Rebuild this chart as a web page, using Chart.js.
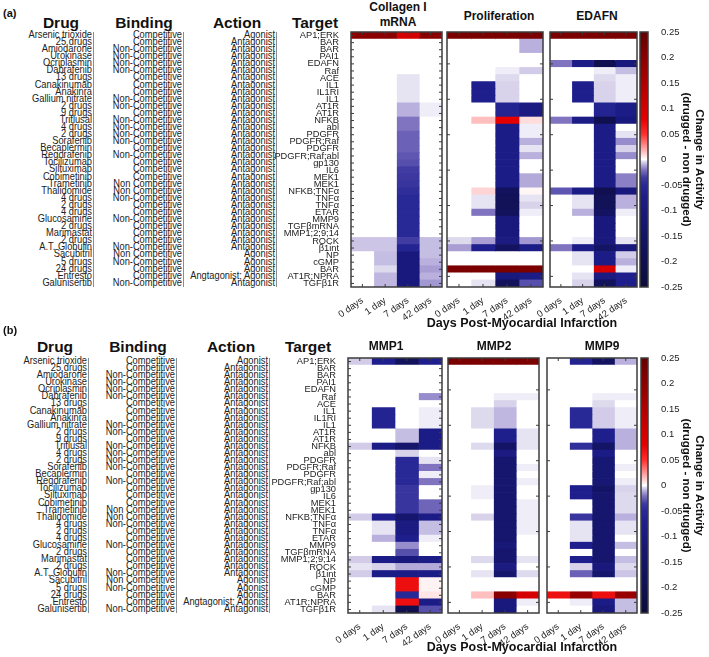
<!DOCTYPE html>
<html>
<head>
<meta charset="utf-8">
<script src="https://cdn.jsdelivr.net/npm/chart.js@4/dist/chart.umd.min.js"></script>
<style>
  body { margin: 0; background: #fff; width: 709px; height: 657px; overflow: hidden; position: relative;
         font-family: "Liberation Sans", Arial, sans-serif; color: #222; }
  canvas { position: absolute; }
  .t { position: absolute; white-space: nowrap; }
  .hd { font-weight: bold; font-size: 15.5px; line-height: 18px; color: #111; transform: translateX(-50%); }
  .pt { font-weight: bold; font-size: 12px; line-height: 15px; color: #111; text-align: center; transform: translateX(-50%); }
  .col { position: absolute; border-right: 1px solid #8c8c8c; text-align: right; font-size: 9.3px; padding-right: 1px; }
  .col div { height: 7.083px; line-height: 7.083px; white-space: nowrap; transform: scaleY(1.15); }
</style>
</head>
<body>
<script>
// ---- data ----
const dayLabels = ['0 days', '1 day', '7 days', '42 days']

const targets = ['AP1;ERK', 'BAR', 'BAR', 'PAI1', 'EDAFN', 'Raf', 'ACE', 'IL1', 'IL1RI', 'IL1',
  'AT1R', 'AT1R', 'NFKB', 'abl', 'PDGFR', 'PDGFR;Raf', 'PDGFR', 'PDGFR;Raf;abl', 'gp130', 'IL6',
  'MEK1', 'MEK1', 'NFKB;TNFα', 'TNFα', 'TNFα', 'ETAR', 'MMP9', 'TGFβmRNA', 'MMP1;2;9;14', 'ROCK',
  'β1int', 'NP', 'cGMP', 'BAR', 'AT1R;NPRA', 'TGFβ1R']

const drugs = ['Arsenic trioxide', '25 drugs', 'Amiodarone', 'Urokinase', 'Ocriplasmin', 'Dabrafenib',
  '13 drugs', 'Canakinumab', 'Anakinra', 'Gallium nitrate', '2 drugs', '9 drugs', 'Triflusal', '4 drugs',
  '2 drugs', 'Sorafenib', 'Becaplermin', 'Regorafenib', 'Tocilizumab', 'Siltuximab', 'Cobimetinib',
  'Trametinib', 'Thalidomide', '4 drugs', '2 drugs', '4 drugs', 'Glucosamine', '2 drugs', 'Marimastat',
  '2 drugs', 'A.T. Globulin', 'Sacubitril', '5 drugs', '24 drugs', 'Entresto', 'Galunisertib']

const C = 'Competitive', N = 'Non-Competitive', NS = 'Non Competitive'
const binding = [C, C, N, N, N, N, C, C, C, N, N, C, N, N, N, N, C, N, C, C,
  C, NS, NS, N, C, C, N, C, C, C, N, NS, N, C, C, N]

const ANT = 'Antagonist', AG = 'Agonist'
const actions = [AG, ANT, ANT, ANT, ANT, ANT, ANT, ANT, ANT, ANT, ANT, ANT, ANT, ANT, ANT, ANT, ANT, ANT,
  ANT, ANT, ANT, ANT, ANT, ANT, ANT, ANT, ANT, ANT, ANT, ANT, ANT, AG, AG, AG, 'Angtagonist; Agonist', ANT]

// one row per target, columns = 0, 1, 7, 42 days
const collagen = [
  [0.2, 0.2, 0.1, 0.2], [0, 0, 0, 0], [0, 0, 0, 0], [0, 0, 0, 0], [0, 0, 0, 0], [0, 0, 0, 0],
  [0, 0, -0.003, 0], [0, 0, -0.003, 0], [0, 0, -0.003, 0], [0, 0, -0.003, 0],
  [0, 0, -0.01, -0.002], [0, 0, -0.01, -0.002], [0, 0, -0.02, 0], [0, 0, -0.02, 0],
  [0, 0, -0.025, 0], [0, 0, -0.025, 0], [0, 0, -0.025, 0], [0, 0, -0.028, 0],
  [0, 0, -0.03, 0], [0, 0, -0.035, 0], [0, 0, -0.038, 0], [0, 0, -0.04, 0],
  [0, 0, -0.045, 0], [0, 0, -0.05, 0], [0, 0, -0.05, 0], [0, 0, -0.05, 0],
  [0, 0, -0.05, 0], [0, 0, -0.05, 0], [0, 0, -0.05, 0],
  [-0.007, -0.007, -0.035, -0.008], [-0.007, -0.007, -0.06, -0.008],
  [0, -0.008, -0.1, -0.008], [0, -0.008, -0.1, -0.01], [0, -0.004, -0.1, -0.013],
  [0, -0.009, -0.1, -0.01], [0, -0.009, -0.1, -0.014]
]

const proliferation = [
  [0.22, 0.22, 0.22, 0.22], [0, 0, 0, -0.01], [0, 0, 0, -0.01], [0, 0, 0, 0], [0, 0, 0, 0],
  [0, 0, -0.002, -0.006], [0, 0, -0.004, 0], [0, -0.07, -0.005, 0], [0, -0.07, -0.005, 0],
  [0, -0.07, -0.005, 0], [0, 0, -0.06, -0.09], [0, 0, -0.06, -0.09], [0, 0.015, 0.08, 0.008],
  [0, 0, -0.08, -0.002], [0, 0, -0.08, -0.002], [0, 0, -0.08, -0.01], [0, 0, -0.08, -0.003],
  [0, 0, -0.08, -0.01], [0, 0, -0.08, 0], [0, 0, -0.08, 0], [0, 0, -0.08, -0.011],
  [0, 0, -0.08, -0.011], [0, 0.01, -0.17, 0.002], [0, -0.003, -0.18, -0.003],
  [0, -0.003, -0.18, -0.005], [0, -0.02, -0.17, -0.002], [0, 0, -0.1, 0], [0, 0, -0.1, 0],
  [0, 0, -0.1, 0], [-0.004, -0.013, -0.09, -0.014], [-0.013, -0.07, -0.16, -0.08],
  [0, 0, 0, 0], [0, 0, 0, 0], [0.22, 0.22, 0.22, 0.22], [0, 0, -0.1, -0.08], [0, -0.003, -0.17, -0.03]
]

const edafn = [
  [0.22, 0.22, 0.22, 0.22], [0, 0, 0, 0], [0, 0, 0, 0], [0, 0, 0, 0], [-0.02, -0.08, -0.2, -0.1],
  [0, 0, -0.002, -0.008], [0, 0, -0.004, -0.002], [0, -0.07, -0.005, -0.002], [0, -0.07, -0.005, -0.002],
  [0, -0.07, -0.005, -0.002], [0, 0, -0.06, -0.08], [0, 0, -0.06, -0.08], [-0.02, -0.08, -0.2, -0.1],
  [0, 0, -0.08, 0], [0, 0, -0.08, -0.003], [0, 0, -0.08, -0.016], [0, 0, -0.08, -0.005],
  [0, 0, -0.08, -0.016], [0, 0, -0.08, 0], [0, 0, -0.08, 0], [0, 0, -0.08, -0.018],
  [0, 0, -0.08, -0.018], [-0.028, -0.08, -0.2, -0.1], [0, -0.003, -0.18, -0.01],
  [0, -0.003, -0.18, -0.01], [0, -0.01, -0.16, -0.002], [0, 0, -0.1, 0], [0, 0, -0.1, 0],
  [0, 0, -0.1, 0], [0, -0.002, -0.1, -0.003], [-0.02, -0.08, -0.15, -0.1], [0, -0.003, -0.08, -0.006],
  [0, -0.003, -0.08, -0.01], [0, 0, 0.1, -0.002], [0, -0.003, -0.09, -0.07], [0, -0.005, -0.17, -0.07]
]

const mmp1 = [
  [-0.006, -0.07, -0.17, -0.07], [0, 0, 0, 0], [0, 0, 0, 0], [0, 0, 0, 0], [0, 0, 0, 0],
  [0, 0, 0, -0.016], [0, 0, 0, 0], [0, -0.06, 0, -0.002], [0, -0.06, 0, -0.002], [0, -0.06, 0, -0.002],
  [0, 0, -0.008, -0.08], [0, 0, -0.008, -0.08], [-0.006, -0.08, -0.14, -0.08], [0, 0, -0.005, 0],
  [0, 0, -0.05, -0.003], [0, 0, -0.05, -0.02], [0, 0, -0.05, -0.002], [0, 0, -0.05, -0.02],
  [0, 0, -0.04, 0], [0, 0, -0.04, 0], [0, 0, -0.04, -0.024], [0, 0, -0.04, -0.024],
  [-0.006, -0.07, -0.13, -0.08], [0, -0.003, -0.09, -0.008], [0, -0.003, -0.09, -0.008],
  [0, -0.01, -0.07, -0.002], [0, 0, -0.016, 0], [0, 0, -0.03, 0], [-0.006, -0.08, -0.1, -0.08],
  [-0.003, -0.005, -0.011, -0.011], [-0.006, -0.08, -0.08, -0.08], [0, 0, 0.07, 0.003],
  [0, 0, 0.07, 0.003], [0, 0, -0.05, 0.006], [0, 0, 0.07, -0.08], [0, -0.003, -0.2, -0.03]
]

const mmp2 = [
  [0.22, 0.22, 0.22, 0.22], [0, 0, 0, 0], [0, 0, 0, 0], [0, 0, 0, 0], [0, 0, 0, 0],
  [0, 0, -0.002, -0.002], [0, 0, -0.005, 0], [0, -0.004, -0.009, 0], [0, -0.004, -0.009, 0],
  [0, -0.004, -0.009, 0], [0, 0, -0.07, -0.003], [0, 0, -0.07, -0.003], [0, -0.004, -0.15, -0.003],
  [0, 0, -0.09, 0], [0, 0, -0.13, 0], [0, 0, -0.13, -0.002], [0, 0, -0.13, 0], [0, 0, -0.13, -0.002],
  [0, -0.002, -0.13, 0], [0, -0.002, -0.13, 0], [0, 0, -0.13, -0.002], [0, 0, -0.13, -0.002],
  [0, -0.005, -0.13, -0.002], [0, 0, -0.13, -0.002], [0, 0, -0.13, -0.002], [0, 0, -0.13, 0],
  [0, 0, -0.11, 0], [0, 0, -0.13, 0], [0, -0.004, -0.13, -0.003], [0, 0, -0.09, 0],
  [0, -0.003, -0.13, -0.004], [0, 0, 0, 0], [0, 0, 0, 0], [0, 0.015, 0.2, 0.1],
  [0, 0, -0.1, -0.002], [0, 0, -0.1, 0]
]

const mmp9 = [
  [0, -0.06, -0.16, -0.01], [0, 0, 0, 0], [0, 0, 0, 0], [0, 0, 0, 0], [0, 0, 0, 0],
  [0, 0, -0.002, -0.002], [0, 0, -0.004, 0], [0, -0.05, -0.006, -0.002], [0, -0.05, -0.006, -0.002],
  [0, -0.05, -0.006, -0.002], [0, 0, -0.07, -0.01], [0, 0, -0.07, -0.01], [0, -0.045, -0.15, -0.01],
  [0, 0, -0.08, 0], [0, 0, -0.12, 0], [0, 0, -0.12, -0.002], [0, 0, -0.12, 0], [0, 0, -0.12, -0.002],
  [0, -0.07, -0.15, -0.005], [0, -0.07, -0.13, -0.004], [0, 0, -0.13, -0.004], [0, 0, -0.13, -0.004],
  [0, -0.04, -0.13, -0.01], [0, -0.003, -0.13, -0.003], [0, -0.003, -0.13, -0.003],
  [0, -0.003, -0.13, 0], [0, -0.07, -0.13, -0.008], [0, 0, -0.13, 0], [0, -0.07, -0.13, -0.008],
  [0, -0.005, -0.1, -0.004], [0, -0.025, -0.13, -0.007], [0, 0, 0, 0], [0, 0, 0, 0],
  [0.07, 0.18, 0.07, 0.18], [0, -0.002, -0.08, -0.008], [0, 0, -0.1, -0.008]
]

const colorbarTicks = [-0.25, -0.2, -0.15, -0.1, -0.05, 0, 0.05, 0.1, 0.15, 0.2, 0.25]

// diverging colour map, value -> rgb
const cmap = [
  [-0.25, [12, 12, 58]], [-0.2, [16, 16, 80]], [-0.15, [20, 20, 102]], [-0.1, [25, 25, 125]],
  [-0.07, [30, 30, 140]], [-0.05, [40, 40, 150]], [-0.035, [65, 60, 162]], [-0.02, [128, 116, 192]],
  [-0.01, [185, 176, 221]], [-0.004, [222, 218, 238]], [0, [255, 255, 255]], [0.01, [255, 212, 212]],
  [0.02, [255, 170, 170]], [0.05, [255, 45, 45]], [0.08, [228, 0, 0]], [0.15, [175, 0, 0]],
  [0.25, [100, 0, 0]]
]

function cellColor (v) {
  if (v <= cmap[0][0]) return 'rgb(' + cmap[0][1].join(',') + ')'
  for (let i = 1; i < cmap.length; i++) {
    if (v <= cmap[i][0]) {
      let [v0, c0] = cmap[i - 1]
      let [v1, c1] = cmap[i]
      let f = (v - v0) / (v1 - v0)
      return 'rgb(' + c0.map((c, k) => Math.round(c + (c1[k] - c) * f)).join(',') + ')'
    }
  }
  return 'rgb(' + cmap[cmap.length - 1][1].join(',') + ')'
}

Chart.defaults.font.family = '"Liberation Sans", Arial, sans-serif'
Chart.defaults.color = '#222'

const TOP_PAD = 12
const BOTTOM_PAD = 40
const LEFT_PAD = 95
const ROWS_H = 255

let framePlugin = (everyRow) => ({
  id: 'frame',
  afterDraw (chart) {
    let { ctx, chartArea: a, scales } = chart
    ctx.save()
    ctx.strokeStyle = '#3c3c3c'
    ctx.lineWidth = 1
    ctx.beginPath()
    scales.y.ticks.forEach((t, i) => {
      if (!everyRow && (i + 1) % 5) return
      let y = scales.y.getPixelForTick(i)
      ctx.moveTo(a.left, y); ctx.lineTo(a.left + 3, y)
      ctx.moveTo(a.right, y); ctx.lineTo(a.right - 3, y)
    })
    scales.x.ticks.forEach(t => {
      let x = scales.x.getPixelForValue(t.value)
      ctx.moveTo(x, a.bottom); ctx.lineTo(x, a.bottom - 3)
      ctx.moveTo(x, a.top); ctx.lineTo(x, a.top + 3)
    })
    ctx.stroke()
    ctx.lineWidth = 1.5
    ctx.strokeRect(a.left, a.top, a.right - a.left, a.bottom - a.top)
    ctx.restore()
  }
})

function heatmap (values, left, right, top, withLabels) {
  let rightPad = 8
  let cv = document.createElement('canvas')
  cv.width = LEFT_PAD + (right - left) + rightPad
  cv.height = TOP_PAD + ROWS_H + BOTTOM_PAD
  cv.style.left = (left - LEFT_PAD) + 'px'
  cv.style.top = (top - TOP_PAD) + 'px'
  document.body.appendChild(cv)

  return new Chart(cv, {
    type: 'bar',
    data: {
      labels: targets,
      datasets: dayLabels.map((d, j) => ({
        label: d,
        data: values.map(() => [j, j + 1]),
        backgroundColor: values.map(r => cellColor(r[j])),
        grouped: false,
        barPercentage: 1,
        categoryPercentage: 1,
        borderWidth: 0
      }))
    },
    options: {
      indexAxis: 'y',
      responsive: false,
      animation: false,
      events: [],
      layout: { padding: { left: 0, right: rightPad, top: TOP_PAD, bottom: 0 } },
      plugins: { legend: { display: false }, tooltip: { enabled: false } },
      scales: {
        y: {
          type: 'category',
          grid: { display: false },
          border: { display: false },
          ticks: {
            autoSkip: false,
            font: { size: 9.3 },
            color: withLabels ? '#222' : 'rgba(0,0,0,0)',
            padding: 4
          },
          afterFit (scale) { scale.width = LEFT_PAD }
        },
        x: {
          type: 'linear',
          min: 0,
          max: 4,
          grid: { display: false },
          border: { display: false },
          afterBuildTicks (scale) {
            scale.ticks = dayLabels.map((_, j) => ({ value: j + 0.5 }))
          },
          ticks: {
            autoSkip: false,
            maxRotation: 35,
            minRotation: 35,
            padding: 0,
            font: { size: 9.5 },
            color: '#222',
            callback: (v, i) => dayLabels[i]
          },
          afterFit (scale) { scale.height = BOTTOM_PAD }
        }
      }
    },
    plugins: [framePlugin(withLabels)]
  })
}

function colorbar (left, right, top) {
  let leftPad = 4
  let cv = document.createElement('canvas')
  cv.width = 709 - left + leftPad
  cv.height = TOP_PAD + ROWS_H + BOTTOM_PAD
  cv.style.left = (left - leftPad) + 'px'
  cv.style.top = (top - TOP_PAD) + 'px'
  document.body.appendChild(cv)
  let axisW = cv.width - leftPad - (right - left)

  return new Chart(cv, {
    type: 'bar',
    data: { labels: [''], datasets: [{ data: [] }] },
    options: {
      responsive: false,
      animation: false,
      events: [],
      layout: { padding: { left: leftPad, right: 0, top: TOP_PAD, bottom: BOTTOM_PAD } },
      plugins: { legend: { display: false }, tooltip: { enabled: false } },
      scales: {
        x: { display: false },
        y: {
          position: 'right',
          min: -0.25,
          max: 0.25,
          grid: { display: false },
          border: { display: false },
          afterBuildTicks (scale) {
            scale.ticks = colorbarTicks.map(v => ({ value: v }))
          },
          ticks: {
            padding: 5,
            font: { size: 9.5 },
            color: '#222',
            callback: v => String(Number(v.toFixed(2)))
          },
          title: {
            display: true,
            text: ['Change in Activity', '(drugged - non drugged)'],
            font: { size: 11.5, weight: 'bold', lineHeight: 1.15 },
            color: '#111',
            padding: { top: 3, bottom: 0 }
          },
          afterFit (scale) { scale.width = axisW }
        }
      }
    },
    plugins: [{
      id: 'gradient',
      beforeDatasetsDraw (chart) {
        let { ctx, chartArea: a, scales: { y } } = chart
        let g = ctx.createLinearGradient(0, y.getPixelForValue(-0.25), 0, y.getPixelForValue(0.25))
        cmap.forEach(([v, c]) => g.addColorStop((v + 0.25) / 0.5, 'rgb(' + c.join(',') + ')'))
        ctx.save()
        ctx.fillStyle = g
        ctx.fillRect(a.left, a.top, a.right - a.left, a.bottom - a.top)
        ctx.strokeStyle = '#3c3c3c'
        ctx.lineWidth = 1.5
        ctx.strokeRect(a.left, a.top, a.right - a.left, a.bottom - a.top)
        ctx.restore()
      }
    }]
  })
}

function text (cls, str, x, y, extra) {
  let d = document.createElement('div')
  d.className = 't ' + cls
  d.innerHTML = str
  d.style.left = x + 'px'
  d.style.top = y + 'px'
  if (extra) Object.assign(d.style, extra)
  document.body.appendChild(d)
}

function textColumn (items, barX, top) {
  let d = document.createElement('div')
  d.className = 'col'
  d.style.right = (709 - barX - 1) + 'px'
  d.style.top = top + 'px'
  items.forEach(s => {
    let r = document.createElement('div')
    r.textContent = s
    d.appendChild(r)
  })
  document.body.appendChild(d)
}

// ---- panel (a) ----
text('', '(a)', 3, 7, { fontWeight: 'bold', fontSize: '11px', color: '#111' })
text('hd', 'Drug', 61, 14)
text('hd', 'Binding', 144, 14)
text('hd', 'Action', 237, 14)
text('hd', 'Target', 315, 14)
textColumn(drugs, 93, 32)
textColumn(binding, 183, 32)
textColumn(actions, 276, 32)
text('pt', 'Collagen I<br>mRNA', 398, 0)
text('pt', 'Proliferation', 499, 9)
text('pt', 'EDAFN', 597, 9)
heatmap(collagen, 351, 442, 32, true)
heatmap(proliferation, 447, 543, 32, false)
heatmap(edafn, 550, 637, 32, false)
colorbar(640, 648, 32)
text('pt', 'Days Post-Myocardial Infarction', 522, 316, { fontSize: '12.5px' })

// ---- panel (b) ----
text('', '(b)', 3, 324, { fontWeight: 'bold', fontSize: '11px', color: '#111' })
text('hd', 'Drug', 55, 338)
text('hd', 'Binding', 138, 338)
text('hd', 'Action', 231, 338)
text('hd', 'Target', 308, 338)
textColumn(drugs, 88, 358)
textColumn(binding, 176, 358)
textColumn(actions, 269, 358)
text('pt', 'MMP1', 386, 339)
text('pt', 'MMP2', 494, 339)
text('pt', 'MMP9', 602, 339)
heatmap(mmp1, 348, 442, 358, true)
heatmap(mmp2, 448, 539, 358, false)
heatmap(mmp9, 547, 637, 358, false)
colorbar(641, 648, 358)
text('pt', 'Days Post-Myocardial Infarction', 522, 640, { fontSize: '12.5px' })
</script>
</body>
</html>
